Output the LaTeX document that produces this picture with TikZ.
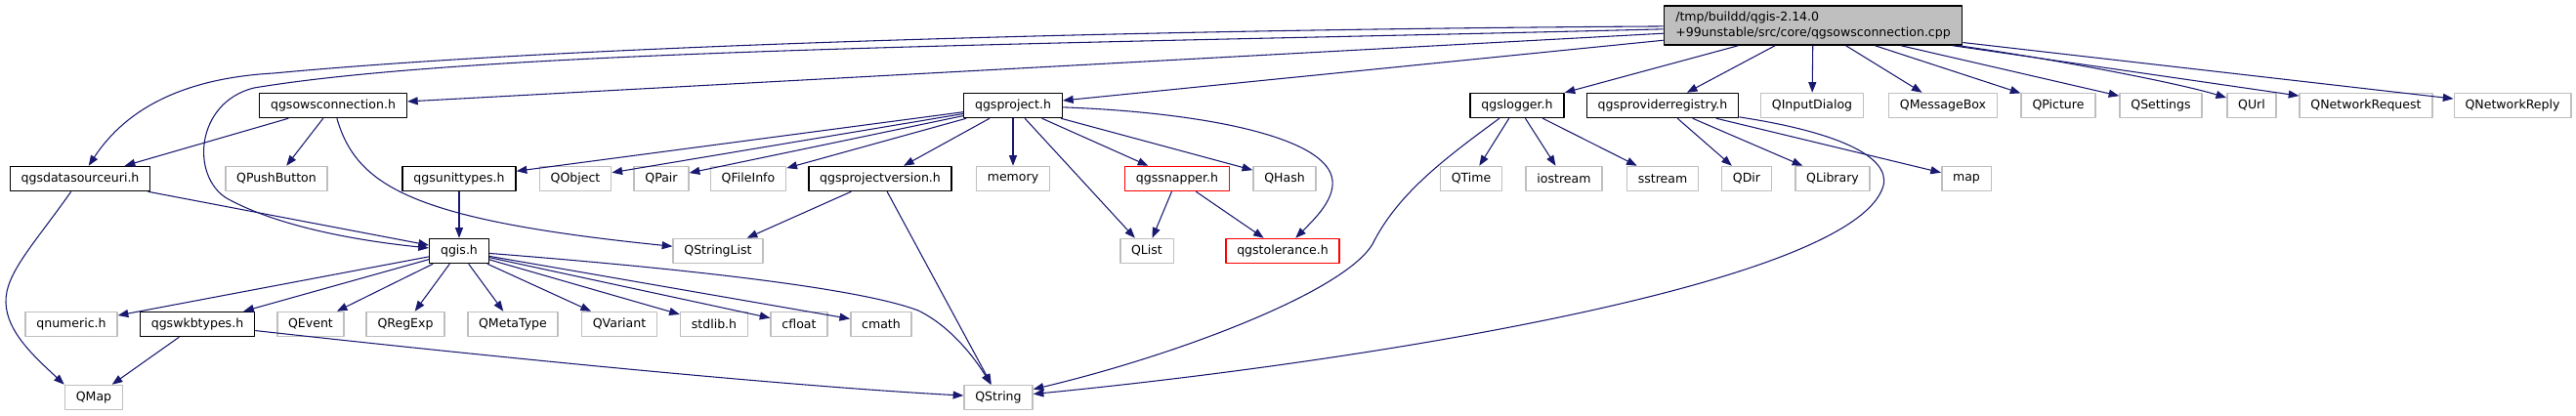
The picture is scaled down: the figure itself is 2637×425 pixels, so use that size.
\documentclass[tikz,border=0pt]{standalone}
\usepackage{fontspec}
\setmainfont{DejaVu Sans}
\usetikzlibrary{arrows.meta}
\definecolor{edgeBlue}{HTML}{191970}
\definecolor{boxGray}{HTML}{BFBFBF}
\definecolor{boxRed}{HTML}{FF0000}

\begin{document}
\begin{tikzpicture}[x=0.75pt, y=-0.75pt, line join=round,
  every node/.style={font=\fontsize{9.4}{11.5}\selectfont, inner xsep=8.5pt,
    inner ysep=0pt, minimum height=18.75pt, fill=white, line width=1.1pt},
  hdrbox/.style={draw=black},
  sysbox/.style={draw=boxGray},
  redbox/.style={draw=boxRed},
  mainbox/.style={draw=black, fill=boxGray, align=left, minimum height=30pt, inner xsep=9pt},
  incl/.style={edgeBlue, line width=0.8pt, -{Triangle[length=8pt,width=6pt]}}]
  \useasboundingbox (0,0) rectangle (2637,425);
  % File being documented
  \node[mainbox] (main) at (1856,26) {/tmp/buildd/qgis-2.14.0\\+99unstable/src/core/qgsowsconnection.cpp};
  % First row
  \node[hdrbox] (owsconn) at (341,108) {qgsowsconnection.h};
  \node[hdrbox] (project) at (1037,108) {qgsproject.h};
  \node[hdrbox] (logger) at (1553,108) {qgslogger.h};
  \node[hdrbox] (provreg) at (1702,108) {qgsproviderregistry.h};
  \node[sysbox] (inputdlg) at (1855,108) {QInputDialog};
  \node[sysbox] (msgbox) at (1989,108) {QMessageBox};
  \node[sysbox] (picture) at (2107,108) {QPicture};
  \node[sysbox] (settings) at (2212,108) {QSettings};
  \node[sysbox] (qurl) at (2305,108) {QUrl};
  \node[sysbox] (netreq) at (2422,108) {QNetworkRequest};
  \node[sysbox] (netreply) at (2572,108) {QNetworkReply};
  % Second row
  \node[hdrbox] (dsuri) at (82,183) {qgsdatasourceuri.h};
  \node[sysbox] (pushbtn) at (283,183) {QPushButton};
  \node[hdrbox] (unittypes) at (470,183) {qgsunittypes.h};
  \node[sysbox] (qobject) at (589,183) {QObject};
  \node[sysbox] (qpair) at (677,183) {QPair};
  \node[sysbox] (fileinfo) at (766,183) {QFileInfo};
  \node[hdrbox] (projver) at (901,183) {qgsprojectversion.h};
  \node[sysbox] (memory) at (1037,183) {memory};
  \node[redbox] (snapper) at (1205,183) {qgssnapper.h};
  \node[sysbox] (qhash) at (1315,183) {QHash};
  \node[sysbox] (qtime) at (1506,183) {QTime};
  \node[sysbox] (iostream) at (1601,183) {iostream};
  \node[sysbox] (sstream) at (1702,183) {sstream};
  \node[sysbox] (qdir) at (1788,183) {QDir};
  \node[sysbox] (library) at (1876,183) {QLibrary};
  \node[sysbox] (stdmap) at (2013,183) {map};
  % Third row
  \node[hdrbox] (qgis) at (470,257) {qgis.h};
  \node[sysbox] (strlist) at (735,257) {QStringList};
  \node[sysbox] (qlist) at (1174,257) {QList};
  \node[redbox] (tolerance) at (1313,257) {qgstolerance.h};
  % Fourth row
  \node[sysbox] (numeric) at (73,332) {qnumeric.h};
  \node[hdrbox] (wkbtypes) at (202,332) {qgswkbtypes.h};
  \node[sysbox] (qevent) at (318,332) {QEvent};
  \node[sysbox] (regexp) at (415,332) {QRegExp};
  \node[sysbox] (metatype) at (525,332) {QMetaType};
  \node[sysbox] (variant) at (634,332) {QVariant};
  \node[sysbox] (stdlib) at (731,332) {stdlib.h};
  \node[sysbox] (cfloat) at (818,332) {cfloat};
  \node[sysbox] (cmath) at (902,332) {cmath};
  % Last row
  \node[sysbox] (qmap) at (96,407) {QMap};
  \node[sysbox] (qstring) at (1022,407) {QString};

  % Includes of the .cpp file
  \draw[incl] (main) .. controls (1200,30) and (600,45) .. (280,75)
    .. controls (190,80) and (130,110) .. (dsuri);
  \draw[incl] (main) .. controls (1100,45) and (500,50) .. (260,90)
    .. controls (200,105) and (195,180) .. (232,203)
    .. controls (290,235) and (380,248) .. (qgis);
  \draw[incl] (main) -- (owsconn);
  \draw[incl] (main) -- (project);
  \draw[incl] (main) -- (logger);
  \draw[incl] (main) -- (provreg);
  \draw[incl] (main) -- (inputdlg);
  \draw[incl] (main) -- (msgbox);
  \draw[incl] (main) -- (picture);
  \draw[incl] (main) -- (settings);
  \draw[incl] (main) .. controls (2100,60) and (2230,85) .. (qurl);
  \draw[incl] (main) -- (netreq);
  \draw[incl] (main) -- (netreply);
  % qgsowsconnection.h
  \draw[incl] (owsconn) -- (dsuri);
  \draw[incl] (owsconn) -- (pushbtn);
  \draw[incl] (owsconn) .. controls (365,190) and (420,225) .. (strlist);
  % qgsdatasourceuri.h
  \draw[incl] (dsuri) -- (qgis);
  \draw[incl] (dsuri) .. controls (35,250) and (5,280) .. (6,310)
    .. controls (7,340) and (35,365) .. (qmap.north west);
  % qgsproject.h
  \draw[incl] (project) -- (unittypes);
  \draw[incl] (project) -- (qobject);
  \draw[incl] (project) -- (qpair);
  \draw[incl] (project) -- (fileinfo);
  \draw[incl] (project) -- (projver);
  \draw[incl] (project) -- (memory);
  \draw[incl] (project) -- (qlist);
  \draw[incl] (project) -- (snapper);
  \draw[incl] (project) -- (qhash);
  \draw[incl] (project) .. controls (1230,115) and (1360,140) .. (1364,185)
    .. controls (1366,205) and (1345,225) .. (tolerance);
  % second level headers
  \draw[incl] (unittypes) -- (qgis);
  \draw[incl] (projver) -- (strlist);
  \draw[incl] (projver) -- (qstring);
  \draw[incl] (snapper) -- (qlist);
  \draw[incl] (snapper) -- (tolerance);
  % qgis.h
  \draw[incl] (qgis) -- (numeric);
  \draw[incl] (qgis) -- (wkbtypes);
  \draw[incl] (qgis) -- (qevent);
  \draw[incl] (qgis) -- (regexp);
  \draw[incl] (qgis) -- (metatype);
  \draw[incl] (qgis) -- (variant);
  \draw[incl] (qgis) -- (stdlib);
  \draw[incl] (qgis) -- (cfloat);
  \draw[incl] (qgis) -- (cmath);
  \draw[incl] (qgis) .. controls (700,275) and (880,295) .. (940,318)
    .. controls (975,335) and (1000,370) .. (qstring);
  % qgswkbtypes.h
  \draw[incl] (wkbtypes) -- (qmap);
  \draw[incl] (wkbtypes) .. controls (500,365) and (800,395) .. (qstring);
  % qgslogger.h
  \draw[incl] (logger) -- (qtime);
  \draw[incl] (logger) -- (iostream);
  \draw[incl] (logger) -- (sstream);
  \draw[incl] (logger) .. controls (1475,165) and (1430,200) .. (1405,250)
    .. controls (1375,300) and (1200,365) .. (qstring);
  % qgsproviderregistry.h
  \draw[incl] (provreg) -- (qdir);
  \draw[incl] (provreg) -- (library);
  \draw[incl] (provreg) -- (stdmap);
  \draw[incl] (provreg) .. controls (1880,135) and (1935,160) .. (1928,190)
    .. controls (1900,290) and (1400,370) .. (qstring);
\end{tikzpicture}
\end{document}
